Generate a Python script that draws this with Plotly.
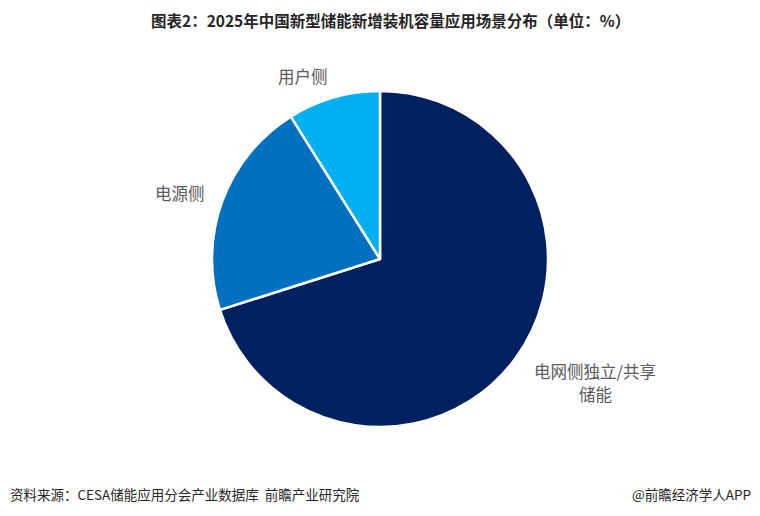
import plotly.graph_objects as go

categories = ["电网侧独立/共享储能", "电源侧", "用户侧"]
values = [70.1, 21.0, 8.9]
colors = ["#002060", "#0070C0", "#00B0F0"]
label_lines = [["电网侧独立/共享", "储能"], ["电源侧"], ["用户侧"]]

title = "图表2：2025年中国新型储能新增装机容量应用场景分布（单位：%）"
source = "资料来源：CESA储能应用分会产业数据库  前瞻产业研究院"
brand = "@前瞻经济学人APP"

W, H = 760, 516
fig = go.Figure(go.Pie(
    labels=categories, values=values, sort=False, direction="clockwise",
    rotation=0, marker=dict(colors=colors, line=dict(color="white", width=2.5)),
    textinfo="none", hoverinfo="label+value", showlegend=False,
    domain=dict(x=[0, 1], y=[1 - 427 / H, 1 - 91 / H]),
))

label_pos = [(595, 371), (180, 193), (303, 76)]
line_gap = 23
annotations = []
for lines, (x, y) in zip(label_lines, label_pos):
    for i, txt in enumerate(lines):
        annotations.append(dict(x=x / W, y=1 - (y + i * line_gap) / H, xref="paper", yref="paper",
                                text=txt, showarrow=False, xanchor="center", yanchor="middle",
                                font=dict(family="Noto Sans CJK SC", size=16.5, color="#595959")))
annotations.append(dict(x=390 / W, y=1 - 20 / H, xref="paper", yref="paper", text="<b>" + title + "</b>",
                        showarrow=False, xanchor="center", yanchor="middle",
                        font=dict(family="Noto Sans CJK SC", size=15.5, color="#262626")))
annotations.append(dict(x=8 / W, y=1 - 494 / H, xref="paper", yref="paper", text=source,
                        showarrow=False, xanchor="left", yanchor="middle",
                        font=dict(family="Noto Sans CJK SC", size=13.5, color="#262626")))
annotations.append(dict(x=753 / W, y=1 - 494 / H, xref="paper", yref="paper", text=brand,
                        showarrow=False, xanchor="right", yanchor="middle",
                        font=dict(family="Noto Sans CJK SC", size=13.5, color="#262626")))

fig.update_layout(
    width=W, height=H,
    margin=dict(l=0, r=0, t=0, b=0),
    paper_bgcolor="white", plot_bgcolor="white",
    annotations=annotations,
)
fig.write_html("out.html", config={"displayModeBar": False},
               post_script="document.body.style.margin='0';")
